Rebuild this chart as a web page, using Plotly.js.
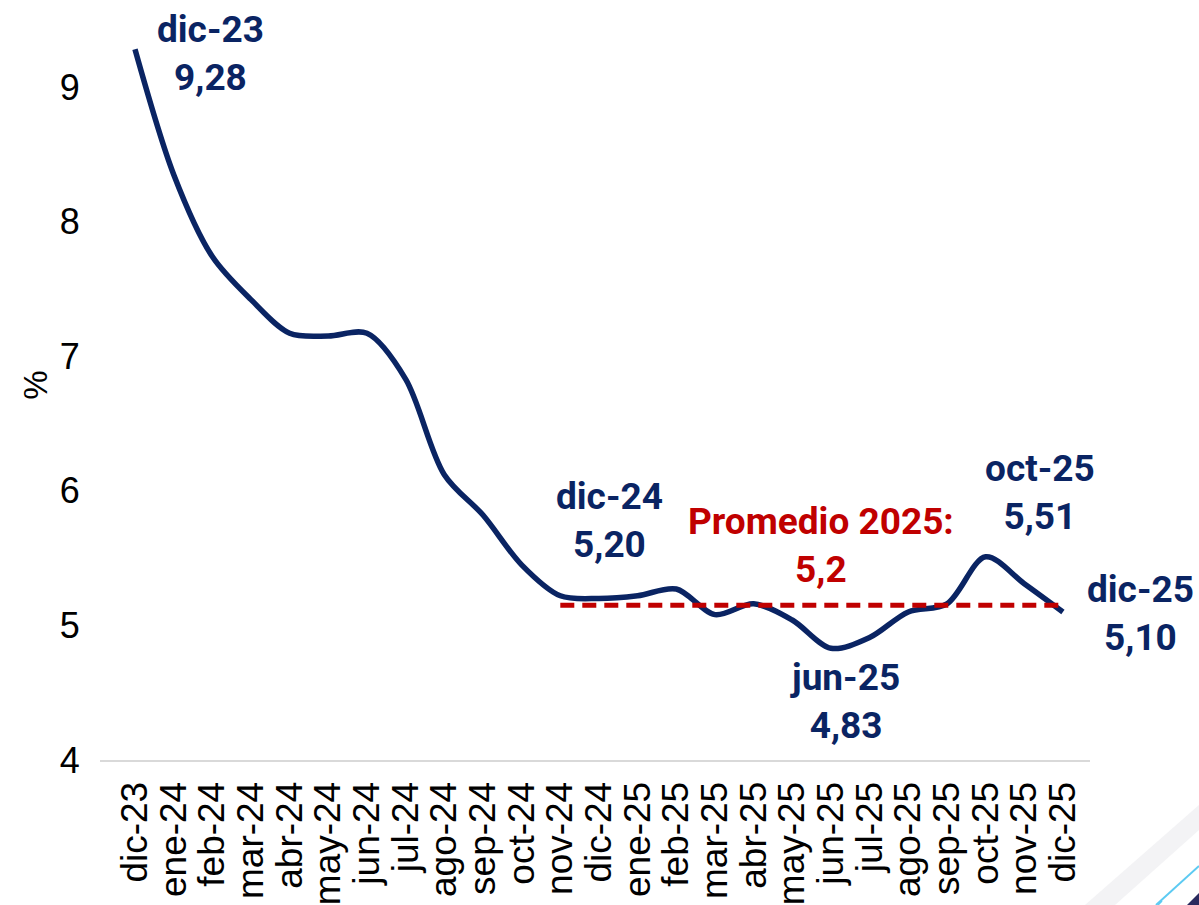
<!DOCTYPE html>
<html>
<head>
<meta charset="utf-8">
<script src="https://cdn.plot.ly/plotly-3.0.1.min.js"></script>
<style>
  body { margin: 0; background: #fff; }
  #chart { width: 1199px; height: 905px; }
</style>
</head>
<body>
<div id="chart"></div>
<script>
const months = ['dic-23','ene-24','feb-24','mar-24','abr-24','may-24','jun-24','jul-24','ago-24','sep-24','oct-24','nov-24','dic-24',
  'ene-25','feb-25','mar-25','abr-25','may-25','jun-25','jul-25','ago-25','sep-25','oct-25','nov-25','dic-25'];
const rate = [9.28,8.35,7.74,7.42,7.17,7.15,7.17,6.83,6.12,5.82,5.45,5.22,5.20,
  5.22,5.27,5.08,5.16,5.04,4.83,4.91,5.10,5.16,5.51,5.31,5.10];
const avgMonths = months.slice(11);
const avgValue = avgMonths.map(() => 5.15);

const navy = '#0a2463';
const red = '#c00000';

// pixel -> paper helpers for the little corner decoration
const px = p => (p - 100) / 990;
const py = p => (760 - p) / 750;

const data = [
  {x: months, y: rate, type: 'scatter', mode: 'lines',
   line: {color: navy, width: 5.5, shape: 'spline', smoothing: 0.9}},
  {x: avgMonths, y: avgValue, type: 'scatter', mode: 'lines',
   line: {color: red, width: 5, dash: '14px,8px'}, hoverinfo: 'skip'}
];

const lblFont = {family: 'Roboto, sans-serif', size: 37, color: navy, weight: 700};
function lbl(i, dx, dy) {
  return {x: months[i], y: rate[i], xref: 'x', yref: 'y', showarrow: false,
    text: months[i] + '<br>' + rate[i].toFixed(2).replace('.', ','),
    font: lblFont, xshift: dx, yshift: dy};
}

const layout = {
  width: 1199, height: 905,
  margin: {l: 100, r: 109, t: 10, b: 145},
  paper_bgcolor: '#fff', plot_bgcolor: '#fff',
  showlegend: false,
  font: {family: '"Liberation Sans", Arial, sans-serif', color: '#000'},
  xaxis: {
    type: 'category', categoryorder: 'array', categoryarray: months,
    tickmode: 'array', tickvals: months, ticktext: months,
    range: [-0.905, 24.70], tickangle: -90,
    showgrid: false, zeroline: false, showline: true, linecolor: '#d9d9d9', linewidth: 2,
    ticks: 'outside', ticklen: 5, tickcolor: 'rgba(0,0,0,0)',
    tickfont: {size: 37, color: '#000'}
  },
  yaxis: {
    range: [4, 9.572], tickvals: [4,5,6,7,8,9],
    showgrid: false, zeroline: false, showline: false,
    ticks: 'outside', ticklen: 12, tickcolor: 'rgba(0,0,0,0)',
    tickfont: {size: 36, color: '#000'},
    title: {text: '%', font: {size: 33, color: '#000'}, standoff: 2}
  },
  annotations: [
    lbl(0, 76, -4),
    lbl(12, 11, 78),
    lbl(18, 14, -53),
    lbl(22, 54, 64),
    lbl(24, 78, -2),
    {x: 17.74, y: 5.597, xref: 'x', yref: 'y', showarrow: false,
     text: 'Promedio 2025:<br>5,2', font: {family: 'Roboto, sans-serif', size: 37, color: red, weight: 700}}
  ],
  shapes: [
    {type: 'path', xref: 'paper', yref: 'paper', layer: 'below', line: {width: 0}, fillcolor: '#f3f3f5',
     path: `M ${px(1085)},${py(905)} L ${px(1199)},${py(805)} L ${px(1199)},${py(830)} L ${px(1115)},${py(905)} Z`},
    {type: 'line', xref: 'paper', yref: 'paper', line: {color: '#5ccaf2', width: 2},
     x0: px(1156), y0: py(905), x1: px(1199), y1: py(866)},
    {type: 'line', xref: 'paper', yref: 'paper', line: {color: '#5ccaf2', width: 1.5},
     x0: px(1158), y0: py(905), x1: px(1162), y1: py(901)},
    {type: 'path', xref: 'paper', yref: 'paper', line: {width: 0}, fillcolor: '#2a2a5e',
     path: `M ${px(1187)},${py(905)} L ${px(1199)},${py(893)} L ${px(1199)},${py(905)} Z`}
  ]
};

Plotly.newPlot('chart', data, layout, {displayModeBar: false, staticPlot: true});
</script>
</body>
</html>
